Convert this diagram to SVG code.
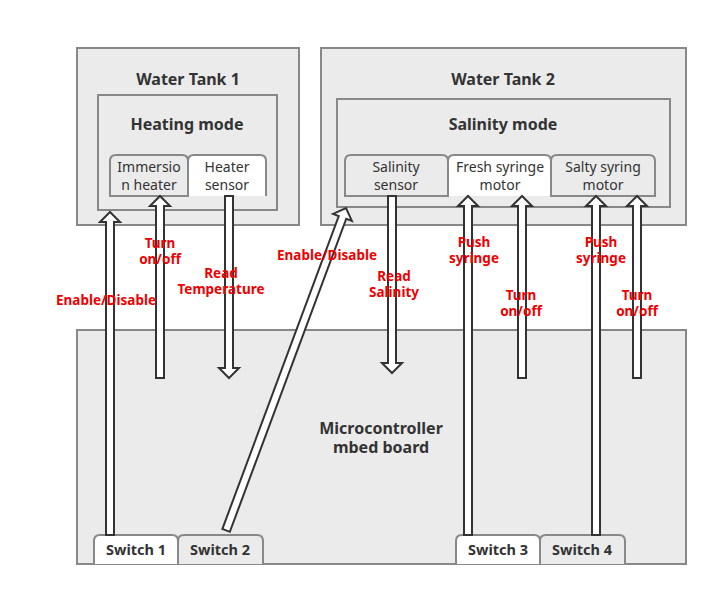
<svg xmlns="http://www.w3.org/2000/svg" width="719" height="597" viewBox="0 0 719 597">
<style>
.box{fill:#ebebeb;stroke:#888;stroke-width:2}
.tab{fill:#ebebeb;stroke:#888;stroke-width:2}
.tabA{fill:#fff;stroke:#888;stroke-width:2}
.t{font-family:"Noto Sans","Open Sans",sans-serif;font-weight:bold;font-size:16px;fill:#333;text-anchor:middle}
.tt{font-family:"Noto Sans","Open Sans",sans-serif;font-size:14px;fill:#333;text-anchor:middle}
.st{font-family:"Noto Sans","Open Sans",sans-serif;font-weight:bold;font-size:14.5px;fill:#333;text-anchor:middle}
.lbl{font-family:"Noto Sans","Open Sans",sans-serif;font-weight:bold;font-size:13.5px;fill:#ee0000;text-anchor:middle}
.arr{fill:#fff;stroke:#333;stroke-width:2;stroke-linejoin:miter}
</style>
<rect width="719" height="597" fill="#fff"/>
<g id="tank1">
<rect class="box" x="77" y="48" width="222" height="177"/>
<text class="t" x="188" y="85">Water Tank 1</text>
</g>
<g id="heating">
<rect class="box" x="98" y="95" width="179" height="115"/>
<text class="t" x="187" y="130">Heating mode</text>
</g>
<g id="immersion">
<path class="tab" d="M110,196 V161 Q110,155 116,155 H182 Q188,155 188,161 V196 Z"/>
<text class="tt" x="149" y="172">Immersio</text>
<text class="tt" x="149" y="190">n heater</text>
</g>
<g id="heatersensor">
<path class="tabA" d="M188,196 V161 Q188,155 194,155 H260 Q266,155 266,161 V196"/>
<rect x="189" y="180" width="76" height="16" fill="#fff"/>
<text class="tt" x="227" y="172">Heater</text>
<text class="tt" x="227" y="190">sensor</text>
</g>
<g id="tank2">
<rect class="box" x="321" y="48" width="365" height="177"/>
<text class="t" x="503" y="85">Water Tank 2</text>
</g>
<g id="salinitymode">
<rect class="box" x="337" y="99" width="333" height="108"/>
<text class="t" x="503" y="130">Salinity mode</text>
</g>
<g id="salinitysensor">
<path class="tab" d="M345,196 V161 Q345,155 351,155 H442 Q448,155 448,161 V196 Z"/>
<text class="tt" x="396" y="172">Salinity</text>
<text class="tt" x="396" y="190">sensor</text>
</g>
<g id="freshmotor">
<path class="tabA" d="M448,196 V161 Q448,155 454,155 H545 Q551,155 551,161 V196"/>
<rect x="449" y="180" width="101" height="16" fill="#fff"/>
<text class="tt" x="500" y="172">Fresh syringe</text>
<text class="tt" x="500" y="190">motor</text>
</g>
<g id="saltymotor">
<path class="tab" d="M551,196 V161 Q551,155 557,155 H649 Q655,155 655,161 V196 Z"/>
<text class="tt" x="603" y="172">Salty syring</text>
<text class="tt" x="603" y="190">motor</text>
</g>
<g id="mcu">
<rect class="box" x="77" y="330" width="609" height="234"/>
<text class="t" x="381" y="434">Microcontroller</text>
<text class="t" x="381" y="453">mbed board</text>
</g>
<g id="switch1">
<path class="tabA" d="M94,564 V541 Q94,535 100,535 H172 Q178,535 178,541 V564"/>
<text class="st" x="136" y="555">Switch 1</text>
</g>
<g id="switch2">
<path class="tab" d="M178,564 V541 Q178,535 184,535 H257 Q263,535 263,541 V564"/>
<text class="st" x="220" y="555">Switch 2</text>
</g>
<g id="switch3">
<path class="tabA" d="M456,564 V541 Q456,535 462,535 H534 Q540,535 540,541 V564"/>
<text class="st" x="498" y="555">Switch 3</text>
</g>
<g id="switch4">
<path class="tab" d="M540,564 V541 Q540,535 546,535 H619 Q625,535 625,541 V564"/>
<text class="st" x="582" y="555">Switch 4</text>
</g>
<g id="connectors">
<path class="arr" d="M106,535 V222 H100 L110,212 L120,222 H114 V535 Z"/>
<path class="arr" d="M156,378 V206 H150 L160,196 L170,206 H164 V378 Z"/>
<path class="arr" d="M225,196 V368 H219 L229,378 L239,368 H233 V196 Z"/>
<path class="arr" transform="translate(346,208) rotate(20.4)" d="M-4,344 V10 H-10 L0,0 L10,10 H4 V344 Z"/>
<path class="arr" d="M388,196 V363 H382 L392,373 L402,363 H396 V196 Z"/>
<path class="arr" d="M464,535 V206 H458 L468,196 L478,206 H472 V535 Z"/>
<path class="arr" d="M518,378 V206 H512 L522,196 L532,206 H526 V378 Z"/>
<path class="arr" d="M592,535 V206 H586 L596,196 L606,206 H600 V535 Z"/>
<path class="arr" d="M633,378 V206 H627 L637,196 L647,206 H641 V378 Z"/>
</g>
<g id="labels">
<text class="lbl" x="106" y="305">Enable/Disable</text>
<text class="lbl" x="160" y="248">Turn</text>
<text class="lbl" x="160" y="264">on/off</text>
<text class="lbl" x="221" y="278">Read</text>
<text class="lbl" x="221" y="294">Temperature</text>
<text class="lbl" x="327" y="260">Enable/Disable</text>
<text class="lbl" x="394" y="281">Read</text>
<text class="lbl" x="394" y="297">Salinity</text>
<text class="lbl" x="474" y="247">Push</text>
<text class="lbl" x="474" y="263">syringe</text>
<text class="lbl" x="521" y="300">Turn</text>
<text class="lbl" x="521" y="316">on/off</text>
<text class="lbl" x="601" y="247">Push</text>
<text class="lbl" x="601" y="263">syringe</text>
<text class="lbl" x="637" y="300">Turn</text>
<text class="lbl" x="637" y="316">on/off</text>
</g>
</svg>
